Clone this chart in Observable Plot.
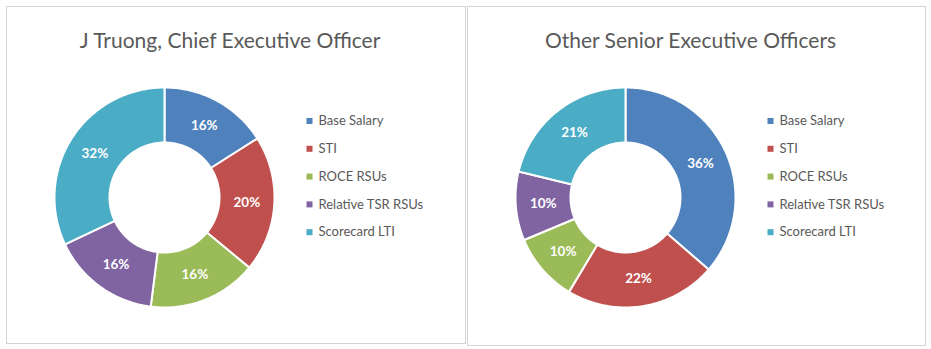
<!DOCTYPE html>
<html>
<head>
<meta charset="utf-8">
<script src="https://cdn.jsdelivr.net/npm/d3@7"></script>
<script src="https://cdn.jsdelivr.net/npm/@observablehq/plot@0.6"></script>
<style>
  html, body { margin: 0; padding: 0; background: #ffffff; }
  body { width: 931px; height: 349px; position: relative; overflow: hidden; font-family: Lato, "Open Sans", sans-serif; }
  .panel { position: absolute; border: 1px solid #d4d4d4; background: #fff; box-sizing: border-box; }
  .title { height: 56px; box-sizing: border-box; padding-top: 22px; padding-right: 12px; text-align: center;
           font-family: Lato, sans-serif; font-size: 21px; line-height: 21px; color: #595959; white-space: nowrap; }
  .panel svg { display: block; }
</style>
</head>
<body>
<script>
// ---- data ----
const categories = ["Base Salary", "STI", "ROCE RSUs", "Relative TSR RSUs", "Scorecard LTI"];
const colors = ["#4F81BD", "#C0504D", "#9BBB59", "#8064A2", "#4BACC6"];
const ceoTitle = "J Truong, Chief Executive Officer";
const ceoValues = [16, 20, 16, 16, 32];
const otherTitle = "Other Senior Executive Officers";
const otherValues = [36, 22, 10, 10, 21];

function makePanel(title, values, box) {
  const panel = document.createElement("div");
  panel.className = "panel";
  panel.style.left = box.left + "px";
  panel.style.top = box.top + "px";
  panel.style.width = box.width + "px";
  panel.style.height = box.height + "px";
  const t = document.createElement("div");
  t.className = "title";
  t.textContent = title;
  panel.appendChild(t);

  const W = box.width - 2, H = box.height - 2 - 56;
  const cx = 157, cy = 134, ro = 110, ri = 55, rm = (ro + ri) / 2;
  const rows = categories.map((c, i) => ({category: c, value: values[i]}));
  const arcs = d3.pie().sort(null).value(d => d.value)(rows);

  // polygon outline of each ring segment, derived from the pie angles
  const pts = [];
  for (const a of arcs) {
    const n = Math.max(2, Math.ceil((a.endAngle - a.startAngle) / (Math.PI / 180)));
    const ring = [];
    for (let k = 0; k <= n; k++) {
      const t = a.startAngle + (a.endAngle - a.startAngle) * k / n;
      ring.push({category: a.data.category, x: cx + ro * Math.sin(t), y: cy - ro * Math.cos(t)});
    }
    for (let k = n; k >= 0; k--) {
      const t = a.startAngle + (a.endAngle - a.startAngle) * k / n;
      ring.push({category: a.data.category, x: cx + ri * Math.sin(t), y: cy - ri * Math.cos(t)});
    }
    ring.push({...ring[0]});
    pts.push(...ring);
  }
  const labels = arcs.map(a => {
    const m = (a.startAngle + a.endAngle) / 2;
    return {x: cx + rm * Math.sin(m), y: cy - rm * Math.cos(m), text: a.data.value + "%"};
  });
  const legX = 302, legY0 = 57.5, legStep = 27.8;
  const legend = categories.map((c, i) => ({category: c, x: legX, y: legY0 + i * legStep}));

  const svg = Plot.plot({
    width: W, height: H,
    margin: 0,
    x: {domain: [0, W], range: [0, W], axis: null},
    y: {domain: [0, H], range: [0, H], axis: null},
    color: {domain: categories, range: colors},
    style: {background: "transparent", fontFamily: "Lato, 'Open Sans', sans-serif", overflow: "visible"},
    marks: [
      Plot.line(pts, {x: "x", y: "y", z: "category", fill: "category", stroke: "white", strokeWidth: 2, curve: "linear"}),
      Plot.text(labels, {x: "x", y: "y", text: "text", fill: "white", fontWeight: "bold", fontSize: 13.5}),
      Plot.dot(legend, {x: "x", y: "y", symbol: "square", r: 3.4, fill: "category"}),
      Plot.text(legend, {x: d => d.x + 9, y: "y", text: "category", textAnchor: "start", fill: "#595959", fontSize: 13})
    ]
  });
  panel.appendChild(svg);
  document.body.appendChild(panel);
}

makePanel(ceoTitle, ceoValues, {left: 6, top: 6, width: 460, height: 338});
makePanel(otherTitle, otherValues, {left: 467, top: 6, width: 459, height: 340});
</script>
</body>
</html>
